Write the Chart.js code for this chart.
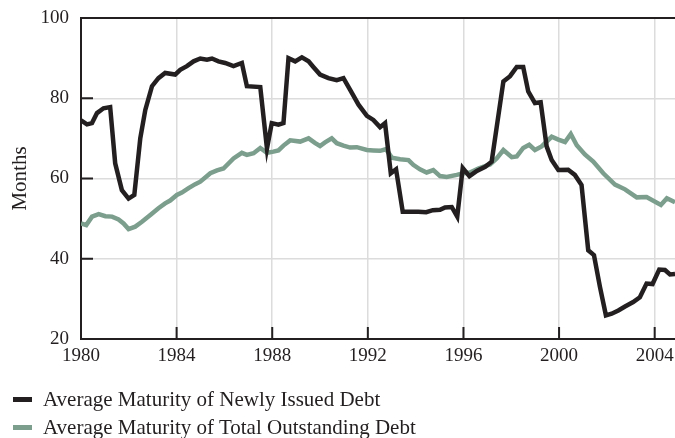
<!DOCTYPE html>
<html><head><meta charset="utf-8">
<script src="https://cdn.jsdelivr.net/npm/chart.js@4.4.0/dist/chart.umd.min.js"></script>
<style>
html,body{margin:0;padding:0;background:#fff;}
#wrap{position:relative;width:675px;height:438px;overflow:hidden;}
#c{position:absolute;left:0;top:0;}
.leg{position:absolute;left:13px;font:21px/22px "Liberation Serif",serif;color:#231f20;white-space:nowrap;}
.leg span{display:inline-block;width:19px;height:5px;vertical-align:middle;margin-right:11px;position:relative;top:-2px;}
</style></head>
<body><div id="wrap"><canvas id="c" width="675" height="438"></canvas>
<div class="leg" style="top:388px"><span style="background:#231f20"></span>Average Maturity of Newly Issued Debt</div>
<div class="leg" style="top:416px"><span style="background:#7b9e8d"></span>Average Maturity of Total Outstanding Debt</div>
</div>
<script>
const newlyYears = [1980.00,1980.25,1980.46,1980.67,1980.94,1981.22,1981.43,1981.71,1981.99,1982.23,1982.48,1982.69,1982.97,1983.24,1983.52,1983.94,1984.15,1984.43,1984.71,1984.99,1985.27,1985.48,1985.75,1986.03,1986.38,1986.73,1986.94,1987.50,1987.78,1987.98,1988.26,1988.47,1988.68,1988.96,1989.24,1989.52,1989.72,1990.00,1990.35,1990.70,1990.98,1991.26,1991.61,1991.96,1992.23,1992.51,1992.72,1992.96,1993.18,1993.46,1994.11,1994.44,1994.72,1995.02,1995.23,1995.51,1995.74,1995.97,1996.25,1996.56,1996.91,1997.18,1997.67,1997.95,1998.23,1998.50,1998.71,1998.99,1999.23,1999.48,1999.69,1999.97,2000.38,2000.66,2000.94,2001.22,2001.46,2001.71,2001.96,2002.20,2002.48,2002.76,2003.10,2003.38,2003.66,2003.91,2004.19,2004.43,2004.64,2004.85];
const newlyValues = [74.5,73.5,73.8,76.3,77.5,77.8,63.8,57.1,55.0,55.9,70.0,77.1,83.0,85.0,86.3,85.9,87.1,88.0,89.2,89.9,89.6,89.9,89.2,88.8,88.0,88.8,83.0,82.8,67.5,73.8,73.4,73.8,90.0,89.2,90.2,89.2,87.8,85.9,85.0,84.5,85.0,82.1,78.4,75.6,74.6,72.8,73.8,61.3,62.3,51.7,51.7,51.6,52.1,52.2,52.8,52.9,50.5,62.6,60.6,61.9,62.9,64.2,84.2,85.5,87.8,87.8,81.7,78.8,79.0,68.0,64.6,62.1,62.2,60.9,58.4,42.1,40.9,33.0,25.9,26.3,27.1,28.1,29.2,30.4,33.8,33.7,37.3,37.2,36.1,36.2];
const totalYears = [1980.00,1980.22,1980.46,1980.74,1981.02,1981.30,1981.57,1981.78,1981.99,1982.27,1982.55,1982.90,1983.24,1983.52,1983.73,1984.01,1984.22,1984.50,1984.78,1984.99,1985.41,1985.69,1985.96,1986.38,1986.73,1986.94,1987.22,1987.50,1987.78,1988.05,1988.26,1988.47,1988.75,1989.17,1989.52,1989.80,1990.00,1990.21,1990.49,1990.70,1990.98,1991.26,1991.54,1991.96,1992.23,1992.51,1992.76,1993.00,1993.35,1993.70,1993.90,1994.18,1994.46,1994.74,1995.02,1995.30,1995.72,1995.99,1996.27,1996.62,1997.11,1997.39,1997.67,1998.02,1998.23,1998.50,1998.75,1998.99,1999.27,1999.69,1999.97,2000.25,2000.49,2000.74,2001.08,2001.43,2001.85,2002.34,2002.76,2003.25,2003.66,2004.26,2004.51,2004.85];
const totalValues = [48.8,48.4,50.5,51.1,50.6,50.5,49.8,48.8,47.4,48.0,49.2,50.9,52.6,53.8,54.5,55.9,56.5,57.6,58.6,59.2,61.3,62.0,62.5,65.0,66.4,65.9,66.3,67.6,66.4,66.7,67.0,68.2,69.5,69.2,70.0,68.8,68.1,69.0,70.0,68.8,68.2,67.7,67.8,67.1,67.0,66.9,67.3,65.2,64.8,64.6,63.4,62.3,61.5,62.1,60.6,60.4,60.9,61.3,61.5,62.5,63.5,65.0,67.1,65.3,65.5,67.6,68.4,67.1,68.0,70.4,69.7,69.1,71.1,68.3,66.0,64.2,61.3,58.5,57.3,55.3,55.4,53.4,55.1,54.1];
const xTicks = [1980,1984,1988,1992,1996,2000,2004];
const yTicks = [20,40,60,80,100];

const INK = '#231f20', GREEN = '#7b9e8d', GRID = '#dcdcdc', NONE = 'rgba(0,0,0,0)';
const font = {family: '"Liberation Serif", serif', size: 19};
const titleFont = {family: '"Liberation Serif", serif', size: 21};

const frame = {
  id: 'frame',
  afterDraw(chart) {
    const {ctx, chartArea: a, scales} = chart;
    ctx.save();
    ctx.strokeStyle = INK;
    ctx.lineWidth = 2;
    ctx.beginPath();
    ctx.moveTo(a.left - 1, a.top);
    ctx.lineTo(a.right + 2, a.top);
    yTicks.forEach(v => {
      if (v === 20 || v === 100) return;
      const y = scales.y.getPixelForValue(v);
      ctx.moveTo(a.left, y); ctx.lineTo(a.left + 12, y);
    });
    xTicks.forEach(v => {
      if (v === 1980) return;
      const x = scales.x.getPixelForValue(v);
      ctx.moveTo(x, a.bottom); ctx.lineTo(x, a.bottom - 12);
    });
    ctx.stroke();
    ctx.restore();
  }
};

new Chart(document.getElementById('c'), {
  type: 'line',
  data: {datasets: [
    {label: 'Average Maturity of Newly Issued Debt',
     data: newlyYears.map((x, i) => ({x, y: newlyValues[i]})),
     borderColor: INK, borderWidth: 4.5, pointRadius: 0, tension: 0, order: 0, borderJoinStyle: 'miter', fill: false},
    {label: 'Average Maturity of Total Outstanding Debt',
     data: totalYears.map((x, i) => ({x, y: totalValues[i]})),
     borderColor: GREEN, borderWidth: 4.5, pointRadius: 0, tension: 0, order: 1, borderJoinStyle: 'miter', fill: false}
  ]},
  options: {
    responsive: false, animation: false, events: [],
    layout: {padding: {top: 18, right: 0, bottom: 69, left: 0}},
    plugins: {legend: {display: false}, tooltip: {enabled: false}},
    scales: {
      x: {
        type: 'linear', min: 1980, max: 2004.85,
        afterBuildTicks: s => { s.ticks = xTicks.map(v => ({value: v})); },
        ticks: {font, color: INK, padding: 6, maxRotation: 0, autoSkip: false, callback: v => String(v)},
        grid: {color: c => (c.tick && c.tick.value === 1980) ? NONE : GRID, lineWidth: 1.5, drawTicks: false},
        border: {display: true, color: INK, width: 2},
        afterFit: s => { s.height = 30; s.paddingLeft = 0; s.paddingRight = 0; }
      },
      y: {
        min: 20, max: 100,
        afterBuildTicks: s => { s.ticks = yTicks.map(v => ({value: v})); },
        ticks: {font, color: INK, padding: 12, callback: v => String(v)},
        grid: {color: c => (c.tick && (c.tick.value === 20 || c.tick.value === 100)) ? NONE : GRID, lineWidth: 1.5, drawTicks: false},
        border: {display: true, color: INK, width: 2},
        title: {display: true, text: 'Months', font: titleFont, color: INK, padding: {top: 8, bottom: 0}},
        afterFit: s => { s.width = 81; s.paddingTop = 0; s.paddingBottom = 0; }
      }
    }
  },
  plugins: [frame]
});
</script>
</body></html>
